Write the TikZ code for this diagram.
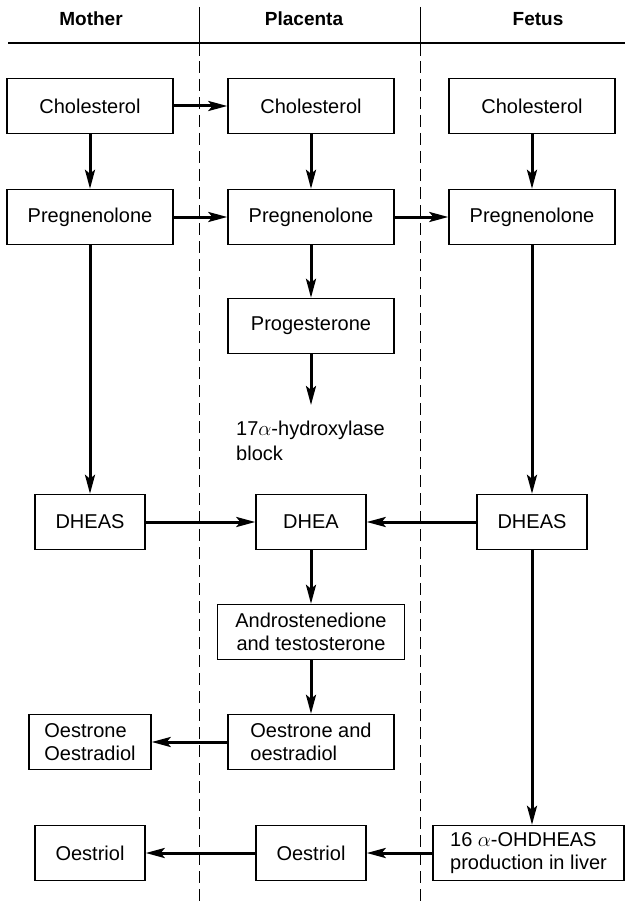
\documentclass[tikz,border=0pt]{standalone}
\usepackage{fontspec}
\setmainfont{Liberation Sans}
\usetikzlibrary{arrows.meta}
\begin{document}
\begin{tikzpicture}[x=1pt,y=-1pt,
  box/.style={draw, line width=1.4pt, minimum height=55pt, inner sep=0pt, font=\fontsize{20}{23}\selectfont},
  arr/.style={line width=3pt, -{Stealth[length=19pt,width=10pt,inset=4pt]}},
  divider/.style={line width=1pt, dash pattern=on 12pt off 6pt},
  hdr/.style={font=\fontsize{19}{22}\selectfont\bfseries, inner sep=0pt},
  note/.style={font=\fontsize{20}{25}\selectfont, inner sep=0pt, align=left}]
\useasboundingbox (0,0) rectangle (625,904);
% header
\node[hdr] (hm) at (91,19) {Mother};
\node[hdr] (hp) at (304,19) {Placenta};
\node[hdr] (hf) at (538,19) {Fetus};
\draw[line width=1.2pt] (8,43) -- (625,43);
\draw[line width=1pt] (199,7) -- (199,56);
\draw[divider] (199,61) -- (199,904);
\draw[line width=1pt] (420,7) -- (420,56);
\draw[divider] (420,61) -- (420,904);
% mother
\node[box, minimum width=166pt] (cm) at (90,106) {Cholesterol};
\node[box, minimum width=166pt] (pm) at (90,217) {Pregnenolone};
\node[box, minimum width=110pt] (dm) at (90,522) {DHEAS};
\node[box, minimum width=122pt, align=left] (om) at (90,742) {Oestrone\\Oestradiol};
\node[box, minimum width=110pt] (tm) at (90,853) {Oestriol};
% placenta
\node[box, minimum width=166pt] (cp) at (311,106) {Cholesterol};
\node[box, minimum width=166pt] (pp) at (311,217) {Pregnenolone};
\node[box, minimum width=166pt] (gp) at (311,326) {Progesterone};
\coordinate (gend) at (311,405);
\node[note, anchor=west] (blk) at (236,441) {17$\alpha$-hydroxylase\\block};
\node[box, minimum width=110pt] (dp) at (311,522) {DHEA};
\node[box, minimum width=187pt, align=center] (ap) at (311,632) {Androstenedione\\and testosterone};
\node[box, minimum width=166pt, align=left] (op) at (311,742) {Oestrone and\\oestradiol};
\node[box, minimum width=110pt] (tp) at (311,853) {Oestriol};
% fetus
\node[box, minimum width=166pt] (cf) at (532,106) {Cholesterol};
\node[box, minimum width=166pt] (pf) at (532,217) {Pregnenolone};
\node[box, minimum width=110pt] (df) at (532,522) {DHEAS};
\node[box, minimum width=191pt, align=left] (lf) at (528.5,853) {16 $\alpha$-OHDHEAS\\production in liver};
% arrows
\draw[arr] (cm) -- (pm);
\draw[arr] (cp) -- (pp);
\draw[arr] (cf) -- (pf);
\draw[arr] (cm) -- (cp);
\draw[arr] (pm) -- (pp);
\draw[arr] (pp) -- (pf);
\draw[arr] (pm) -- (dm);
\draw[arr] (pp) -- (gp);
\draw[arr] (gp) -- (gend);
\draw[arr] (pf) -- (df);
\draw[arr] (dm) -- (dp);
\draw[arr] (df) -- (dp);
\draw[arr] (dp) -- (ap);
\draw[arr] (ap) -- (op);
\draw[arr] (op) -- (om);
\draw[arr] (df.south) -- (df.south |- lf.north);
\draw[arr] (lf) -- (tp);
\draw[arr] (tp) -- (tm);
\end{tikzpicture}
\end{document}
